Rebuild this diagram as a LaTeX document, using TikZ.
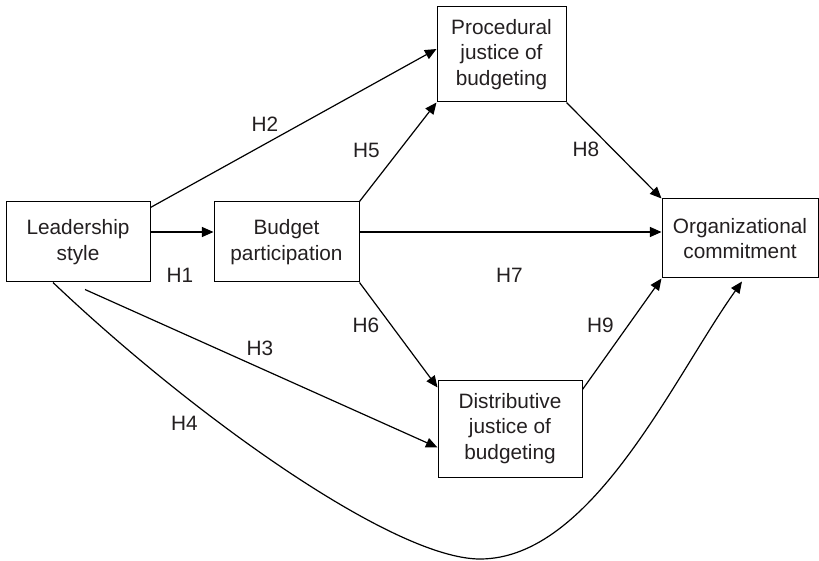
\documentclass[tikz,border=0pt]{standalone}
\usepackage{fontspec}
\setmainfont{Liberation Sans}
\usepackage{xcolor}
\usetikzlibrary{positioning,arrows.meta}
\definecolor{inkText}{HTML}{231F20}
\tikzset{
  blk/.style={draw, line width=0.5pt, align=center, inner sep=0pt,
              text=inkText, font=\fontsize{10.4}{12.9}\selectfont},
  flow/.style={-{Triangle[length=5.8pt,width=5pt]}, line width=0.6pt},
  % hypothesis labels sit beside the arrows
  lbl/.style={inner sep=0pt, text=inkText, font=\fontsize{10.4}{12.9}\selectfont},
}

\begin{document}
\begin{tikzpicture}[x=0.5pt, y=-0.5pt]
\useasboundingbox (0,0) rectangle (819,561);

%% ── the constructs ───────────────────────────────────────────────────────
\node[blk, minimum width=72pt, minimum height=40pt] (lead) at (78,242)
  {Leadership\\style};
\node[blk, minimum width=72.5pt, minimum height=40pt, right=31.5pt of lead] (budget)
  {Budget\\participation};
\node[blk, minimum width=64.5pt, minimum height=47.5pt] (proc) at (501.5,54.5)
  {Procedural\\justice of\\budgeting};
\node[blk, minimum width=72pt, minimum height=48.5pt] (dist) at (510,428.5)
  {Distributive\\justice of\\budgeting};
\node[blk, minimum width=78pt, minimum height=39.5pt] (org) at (740,238.5)
  {Organizational\\commitment};

%% ── the hypothesised paths ───────────────────────────────────────────────
\draw[flow] ([yshift=5pt]lead.east) -- ([yshift=5pt]budget.west);
\draw[flow] ([yshift=-3pt]lead.north east) -- ([yshift=2.75pt]proc.west);
\draw[flow] ([xshift=3.5pt,yshift=-3.5pt]lead.south) -- ([yshift=-9.5pt]dist.west);
\coordinate (h4low) at (480,559);
\draw[flow] ([xshift=-12.5pt]lead.south)
  .. controls +(140.6,133.7) and +(-86,0) .. (h4low)
  .. controls +(112,0) and +(-69.3,97.3) .. ([xshift=1pt,yshift=-1.5pt]org.south);
\draw[flow] (budget.north east) -- (proc.south west);
\draw[flow] (budget.south east) -- ([yshift=-4pt]dist.north west);
\draw[flow] ([yshift=5pt]budget.east) -- ([yshift=5pt]budget.east -| org.west);
\draw[flow] (proc.south east) -- (org.north west);
\draw[flow] ([yshift=-5pt]dist.north east) -- (org.south west);

%% ── labels ───────────────────────────────────────────────────────────────
\node[lbl] (h1) at (180,275.5) {H1};
\node[lbl] (h2) at (265,124.5) {H2};
\node[lbl] (h3) at (260,348.5) {H3};
\node[lbl] (h4) at (184.5,423) {H4};
\node[lbl] (h5) at (366.5,150) {H5};
\node[lbl] (h6) at (366,325) {H6};
\node[lbl] (h7) at (509.5,275.5) {H7};
\node[lbl] (h8) at (586,149.5) {H8};
\node[lbl] (h9) at (600.5,325) {H9};

\end{tikzpicture}
\end{document}
